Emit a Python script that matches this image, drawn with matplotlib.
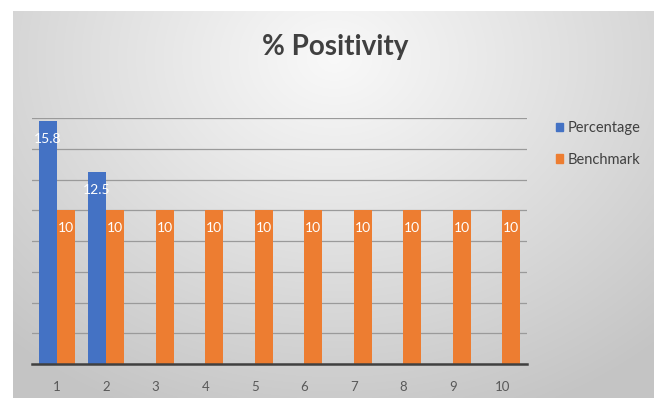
import numpy as np
import matplotlib
matplotlib.use("Agg")
import matplotlib.pyplot as plt
from matplotlib.patches import Patch

categories = ["1", "2", "3", "4", "5", "6", "7", "8", "9", "10"]
percentage = [15.8, 12.5]
benchmark = [10, 10, 10, 10, 10, 10, 10, 10, 10, 10]
title = "% Positivity"
series_names = ["Percentage", "Benchmark"]

plt.rcParams['font.family'] = ['Lato', 'DejaVu Sans']

W, H = 654, 398
fig = plt.figure(figsize=(W / 100, H / 100), dpi=100)
fig.patch.set_facecolor('white')

# background gradient chart area
bx0, by1 = 13, 11
bg = fig.add_axes([bx0 / W, 0, 1 - bx0 / W, 1 - by1 / H], zorder=-2)
ny, nx = 200, 320
yy, xx = np.mgrid[0:ny, 0:nx]
cx, cy = nx * 0.5, ny * 0.12
d = np.sqrt(((xx - cx) / nx) ** 2 + ((yy - cy) / ny * 0.75) ** 2)
d = np.clip(d / 0.75, 0, 1)
c0, c1 = 0.975, 0.77
val = c0 + (c1 - c0) * d ** 1.05
img = np.dstack([val, val, val])
bg.imshow(img, aspect='auto', extent=[0, 1, 0, 1], interpolation='bilinear')
bg.set_axis_off()

ax = fig.add_axes([32 / W, (H - 364) / H, (527 - 32) / W, (364 - 118) / H])
ax.patch.set_alpha(0)

x = np.arange(len(categories))
bw = 0.36
off = 0.185
blue = '#4472C4'
orange = '#ED7D31'
b1 = ax.bar(x[:len(percentage)] - off, percentage, bw, color=blue, zorder=3)
b2 = ax.bar(x + off, benchmark, bw, color=orange, zorder=3)

for bars, vals in ((b1, percentage), (b2, benchmark)):
    for r, v in zip(bars, vals):
        ax.annotate(f"{v:g}", (r.get_x() + r.get_width() / 2, v),
                    xytext=(0, -13), textcoords='offset points',
                    ha='center', va='center', color='white', fontsize=10, zorder=4)

ax.set_ylim(0, 16)
ax.set_yticks(np.arange(0, 17, 2))
ax.set_xlim(-0.5, len(categories) - 0.5)
ax.yaxis.grid(True, color='#9a9a9a', lw=0.9, zorder=0)
ax.set_axisbelow(True)
ax.tick_params(axis='y', left=False, labelleft=False)
ax.tick_params(axis='x', bottom=False, colors='#595959', labelsize=9.5, pad=9)
ax.set_xticks(x)
ax.set_xticklabels(categories)
for s in ('top', 'right', 'left'):
    ax.spines[s].set_visible(False)
ax.spines['bottom'].set_color('#404040')
ax.spines['bottom'].set_linewidth(1.8)
ax.spines['bottom'].set_zorder(5)

fig.text(335 / W, 1 - 47 / H, title, ha='center', va='center',
         fontsize=20, fontweight='bold', color='#404040')

handles = [Patch(color=blue), Patch(color=orange)]
fig.legend(handles, series_names, loc='upper left',
           bbox_to_anchor=(543 / W, 1 - 108 / H), frameon=False,
           handlelength=0.5, handleheight=0.5, handletextpad=0.3,
           labelspacing=1.2, fontsize=10.5, labelcolor='#404040')

fig.savefig('out.png', dpi=100)
